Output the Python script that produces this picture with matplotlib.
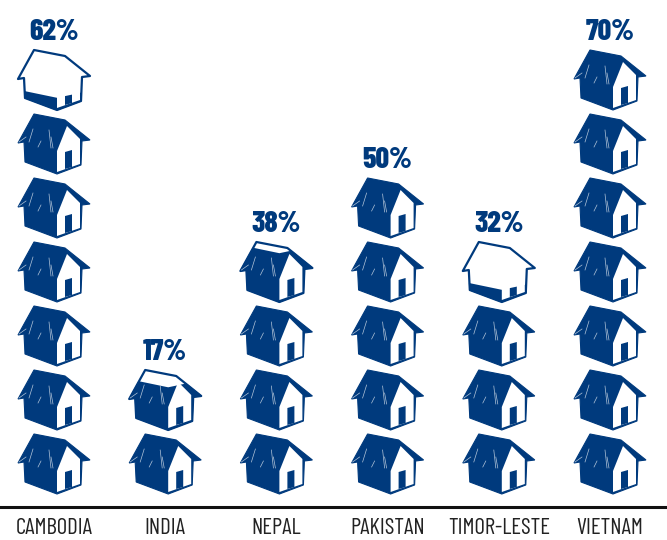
import math
import matplotlib
matplotlib.use('Agg')
import matplotlib.pyplot as plt
from matplotlib.patches import Polygon

countries = ['CAMBODIA', 'INDIA', 'NEPAL', 'PAKISTAN', 'TIMOR-LESTE', 'VIETNAM']
percent = [62, 17, 38, 50, 32, 70]
per_house = 10

NAVY = '#003a7d'
W, H = 667, 540
CONDENSED = ['Barlow Condensed', 'Liberation Sans', 'DejaVu Sans']

fig = plt.figure(figsize=(W / 100, H / 100), dpi=100)
ax = fig.add_axes([0, 33 / H, 1, 507 / H])

# 111.2 px between houses, 64 px per house, house foot 13 px above the rule
px_x = 1 / 111.2
px_y = per_house / 64
ax.set_xlim(-54 * px_x, (W - 54) * px_x)
ax.set_ylim(-13 * px_y, 494 * px_y)

# house drawing, px from centre / from foot
body = [(-20, 60), (11, 54), (36, 34), (28, 33), (27, 9), (3, 0), (-29, 12), (-30, 32), (-36, 31)]
gable = [(13, 48), (26, 35), (26, 10), (3, 2), (3, 23)]
door = [(11, 22), (18, 24), (18, 7), (11, 5)]
thatch = [
    [(-21, 45), (-25, 32)], [(-5, 44), (-3, 26)], [(-13, 33), (-16, 27)],
    [(-28, 37), (-35, 32)], [(-3, 37), (-1, 26)],
]
house_top = 61


def place(pts, i, base):
    return [(i + x * px_x, base + y * px_y) for x, y in pts]


def level_clip(i, base, frac):
    # fill line falls to the house corner, then rises along the front
    lv = frac * house_top
    return Polygon(place([(-50, -5), (50, -5), (50, lv + 10), (3, lv), (-50, lv + 11)], i, base),
                   transform=ax.transData, fc='none', ec='none')


for i, val in enumerate(percent):
    n = math.ceil(val / per_house)
    for k in range(n):
        base = k * per_house
        frac = min(1, val / per_house - k)
        clip = None
        if frac < 1:
            ax.add_patch(Polygon(place(body, i, base), fc='white', ec=NAVY, lw=1.6, joinstyle='round'))
            clip = level_clip(i, base, frac)
            ax.add_patch(clip)
        parts = [
            Polygon(place(body, i, base), fc=NAVY, ec=NAVY, lw=0.8),
            Polygon(place(gable, i, base), fc='white', ec='none'),
            Polygon(place(door, i, base), fc=NAVY, ec='none'),
        ]
        for p in parts:
            ax.add_patch(p)
            if clip is not None and p is not parts[1]:
                p.set_clip_path(clip)
        for seg in thatch:
            xs, ys = zip(*place(seg, i, base))
            ln, = ax.plot(xs, ys, color='white', lw=0.5, alpha=0.7)
            if clip is not None:
                ln.set_clip_path(clip)
    ax.text(i, (n - 1) * per_house + (house_top + 9) * px_y, f'{val}%', ha='center', va='baseline',
            color=NAVY, fontsize=21.5, fontweight=800, family=CONDENSED)

ax.set_xticks(range(len(countries)), countries, family=CONDENSED)
ax.tick_params(axis='x', length=0, labelsize=16.5, labelcolor='#222222', pad=8)
ax.set_yticks([])
for side in ['top', 'left', 'right']:
    ax.spines[side].set_visible(False)
ax.spines['bottom'].set_linewidth(2.2)
ax.spines['bottom'].set_color('#111111')

fig.savefig('out.png', dpi=100)
